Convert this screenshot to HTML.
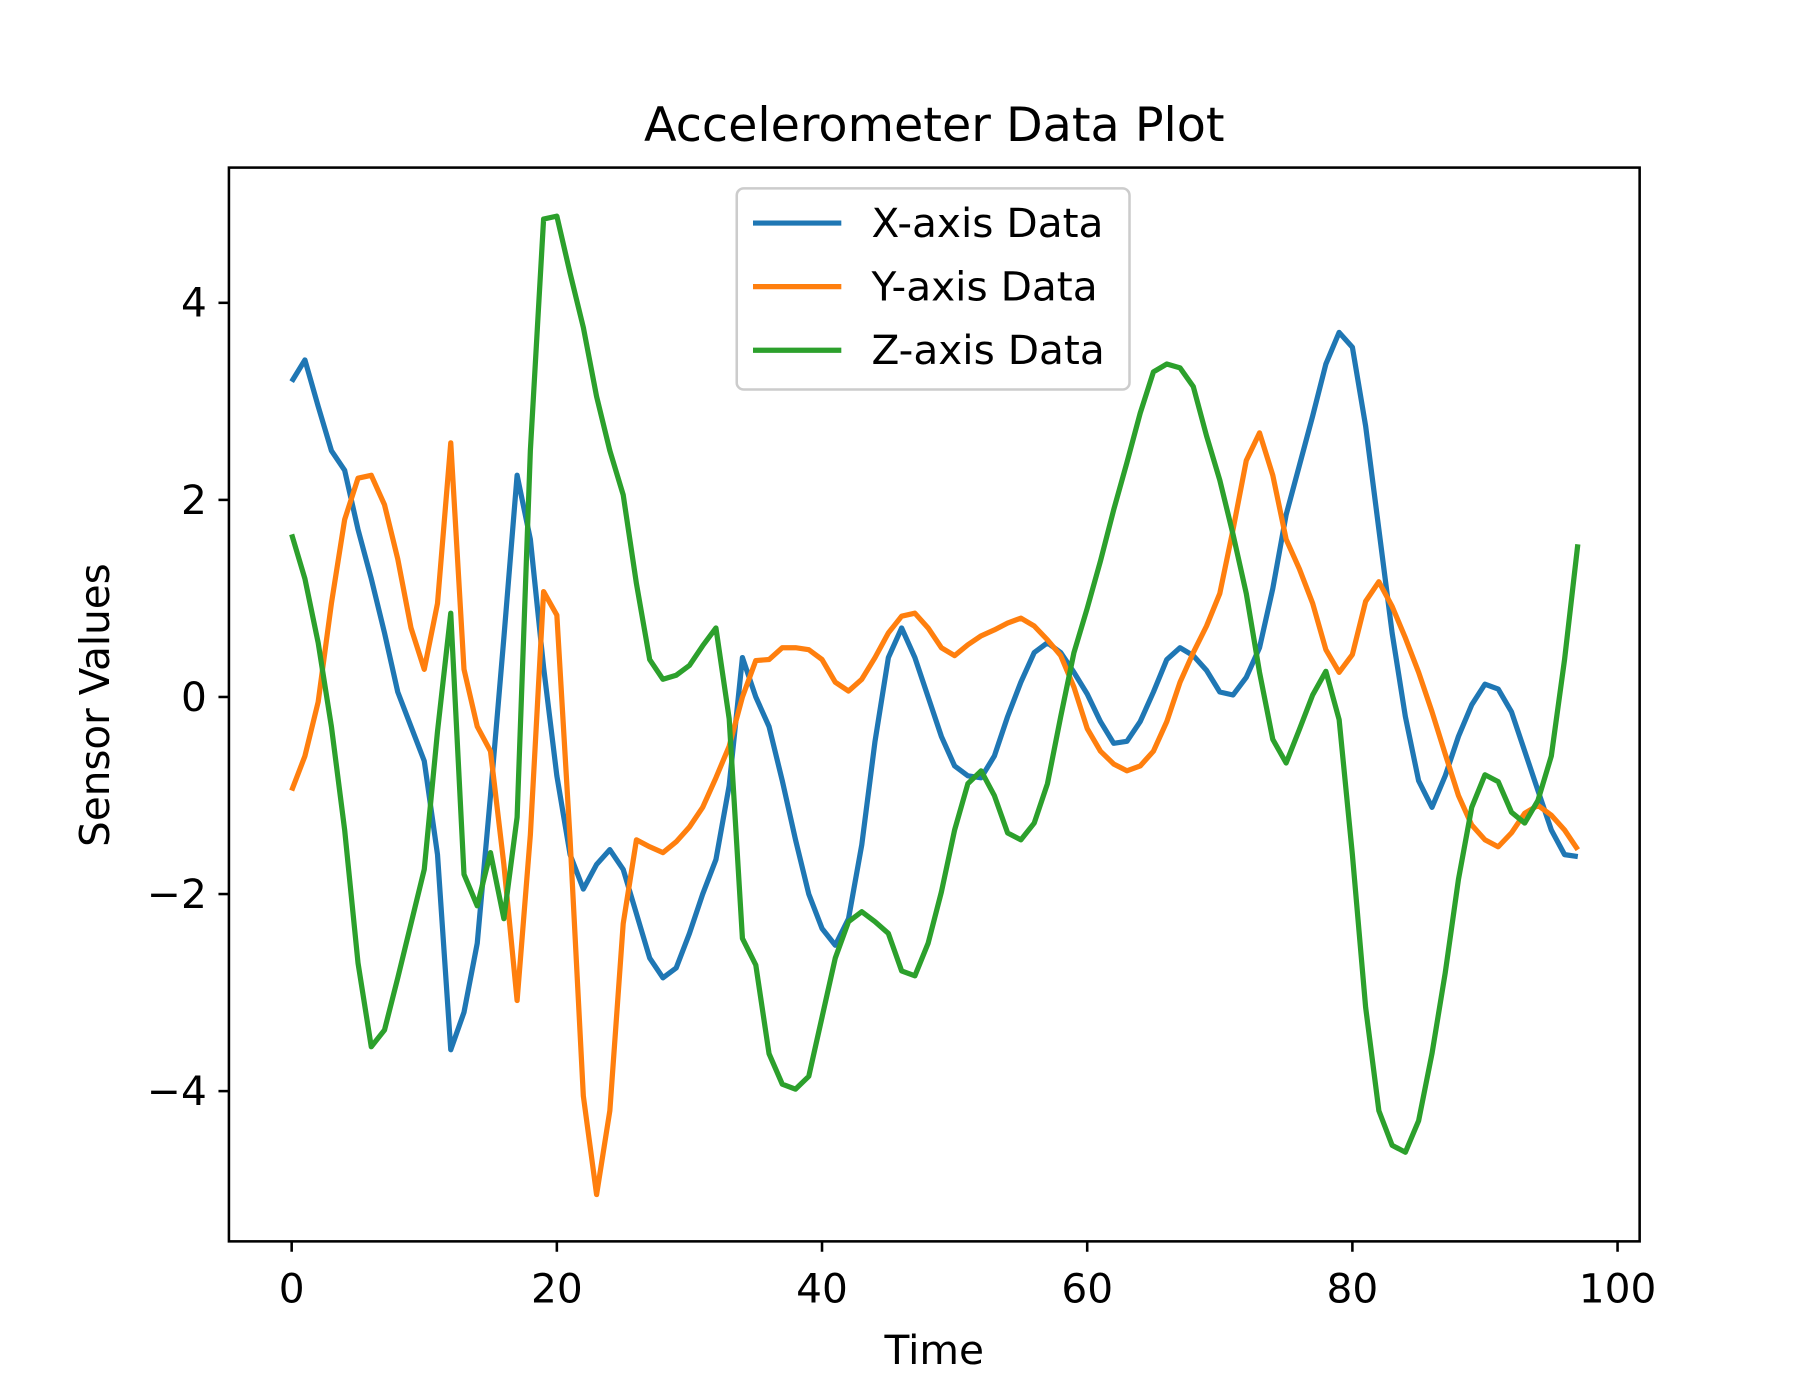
<!DOCTYPE html>
<html><head><meta charset="utf-8"><style>
html,body{margin:0;padding:0;background:#fff;}
svg{display:block;font-family:"DejaVu Sans","Liberation Sans",sans-serif;}
</style></head><body>
<svg id="chart" width="1800" height="1387" viewBox="0 0 1549 1200" preserveAspectRatio="none" xmlns="http://www.w3.org/2000/svg">
<rect width="1549" height="1200" fill="#fff"/>
<text x="804" y="122" font-size="41" text-anchor="middle">Accelerometer Data Plot</text>
<text x="804" y="1180" font-size="35" text-anchor="middle">Time</text>
<text transform="translate(94,610) rotate(-90)" font-size="35" text-anchor="middle">Sensor Values</text>
<g id="ticks"></g>
<g id="series"></g>
<rect x="197" y="145" width="1214" height="929" fill="none" stroke="#000" stroke-width="2.2"/>
<g>
<rect x="634" y="163" width="338" height="174" rx="6" fill="#fff" fill-opacity="0.8" stroke="#ccc" stroke-width="2.2"/>
<line x1="648" y1="193" x2="724" y2="193" stroke="#1f77b4" stroke-width="4.5"/>
<text x="750" y="205" font-size="35">X-axis Data</text>
<line x1="648" y1="248" x2="724" y2="248" stroke="#ff7f0e" stroke-width="4.5"/>
<text x="750" y="260" font-size="35">Y-axis Data</text>
<line x1="648" y1="303" x2="724" y2="303" stroke="#2ca02c" stroke-width="4.5"/>
<text x="750" y="315" font-size="35">Z-axis Data</text>
</g>
</svg>
<script>
const xTicks=[0,20,40,60,80,100];
const yTicks=[-4,-2,0,2,4];
const yTickLabels=["\u22124","\u22122","0","2","4"];
const seriesX=[3.2,3.42,2.95,2.5,2.3,1.7,1.2,0.65,0.05,-0.3,-0.65,-1.6,-3.58,-3.2,-2.5,-1.0,0.6,2.25,1.6,0.3,-0.8,-1.6,-1.95,-1.7,-1.55,-1.75,-2.2,-2.65,-2.85,-2.75,-2.4,-2.0,-1.65,-0.9,0.4,0.0,-0.3,-0.85,-1.45,-2.0,-2.35,-2.52,-2.25,-1.5,-0.45,0.4,0.7,0.4,0.0,-0.4,-0.7,-0.8,-0.82,-0.6,-0.2,0.15,0.45,0.55,0.45,0.25,0.03,-0.25,-0.47,-0.45,-0.25,0.05,0.38,0.5,0.42,0.27,0.05,0.02,0.2,0.5,1.1,1.85,2.35,2.85,3.38,3.7,3.55,2.75,1.7,0.65,-0.2,-0.85,-1.12,-0.8,-0.4,-0.08,0.13,0.08,-0.15,-0.55,-0.95,-1.35,-1.6,-1.62];
const seriesY=[-0.95,-0.6,-0.05,0.95,1.8,2.22,2.25,1.95,1.4,0.7,0.28,0.95,2.58,0.28,-0.3,-0.55,-1.7,-3.08,-1.4,1.07,0.83,-1.45,-4.05,-5.05,-4.2,-2.3,-1.45,-1.52,-1.58,-1.47,-1.32,-1.12,-0.82,-0.5,0.0,0.37,0.38,0.5,0.5,0.48,0.38,0.15,0.06,0.18,0.4,0.65,0.82,0.85,0.7,0.5,0.42,0.53,0.62,0.68,0.75,0.8,0.72,0.58,0.42,0.1,-0.32,-0.55,-0.68,-0.75,-0.7,-0.55,-0.25,0.15,0.45,0.72,1.05,1.7,2.4,2.68,2.25,1.6,1.3,0.95,0.48,0.25,0.43,0.97,1.17,0.92,0.6,0.25,-0.15,-0.58,-1.0,-1.3,-1.45,-1.52,-1.38,-1.18,-1.1,-1.2,-1.35,-1.55];
const seriesZ=[1.65,1.2,0.55,-0.3,-1.35,-2.7,-3.55,-3.38,-2.85,-2.3,-1.75,-0.35,0.85,-1.8,-2.12,-1.58,-2.25,-1.22,2.5,4.85,4.88,4.3,3.75,3.05,2.5,2.05,1.15,0.38,0.18,0.22,0.32,0.52,0.7,-0.22,-2.45,-2.72,-3.62,-3.93,-3.98,-3.85,-3.25,-2.65,-2.28,-2.18,-2.28,-2.4,-2.78,-2.83,-2.5,-1.98,-1.35,-0.88,-0.75,-1.0,-1.38,-1.45,-1.28,-0.88,-0.2,0.45,0.9,1.38,1.9,2.38,2.88,3.3,3.38,3.34,3.15,2.65,2.2,1.65,1.05,0.25,-0.43,-0.67,-0.33,0.02,0.26,-0.23,-1.6,-3.15,-4.2,-4.55,-4.62,-4.3,-3.62,-2.8,-1.85,-1.12,-0.79,-0.86,-1.17,-1.28,-1.05,-0.6,0.38,1.55];
const NS="http://www.w3.org/2000/svg";
function xs(t){return 251+t*11.41;}
function ys(v){return 603-v*85.25;}
const tg=document.getElementById('ticks');
xTicks.forEach(t=>{
  const l=document.createElementNS(NS,'line');
  l.setAttribute('x1',xs(t));l.setAttribute('x2',xs(t));l.setAttribute('y1',1074);l.setAttribute('y2',1083);
  l.setAttribute('stroke','#000');l.setAttribute('stroke-width','2.2');
  
  
  tg.appendChild(l);
  const s=document.createElementNS(NS,'text');
  s.setAttribute('x',xs(t));s.setAttribute('y',1127);s.setAttribute('font-size','35');s.setAttribute('text-anchor','middle');
  s.textContent=t;
  
  
  tg.appendChild(s);
});
yTicks.forEach((v,i)=>{
  const l=document.createElementNS(NS,'line');
  l.setAttribute('x1',188);l.setAttribute('x2',197);l.setAttribute('y1',ys(v));l.setAttribute('y2',ys(v));
  l.setAttribute('stroke','#000');l.setAttribute('stroke-width','2.2');
  
  
  tg.appendChild(l);
  const s=document.createElementNS(NS,'text');
  s.setAttribute('x',178);s.setAttribute('y',ys(v)+12);s.setAttribute('font-size','35');s.setAttribute('text-anchor','end');
  s.textContent=yTickLabels[i];
  
  
  tg.appendChild(s);
});
const sg=document.getElementById('series');
[[seriesX,'#1f77b4','x-axis-data-line'],[seriesY,'#ff7f0e','y-axis-data-line'],[seriesZ,'#2ca02c','z-axis-data-line']].forEach(([d,c,n])=>{
  const p=document.createElementNS(NS,'polyline');
  p.setAttribute('points',d.map((v,i)=>xs(i).toFixed(1)+','+ys(v).toFixed(1)).join(' '));
  p.setAttribute('fill','none');p.setAttribute('stroke',c);p.setAttribute('stroke-width','4.5');p.setAttribute('stroke-linejoin','round');
  
  
  sg.appendChild(p);
});
</script>
</body></html>
